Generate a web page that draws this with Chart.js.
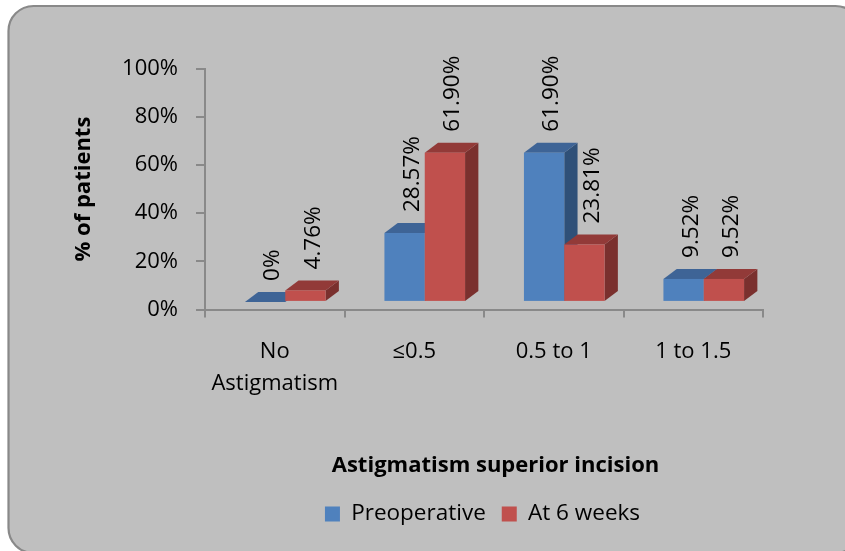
<!DOCTYPE html>
<html>
<head>
<meta charset="utf-8">
<script src="https://cdn.jsdelivr.net/npm/chart.js@4/dist/chart.umd.min.js"></script>
<style>
  html, body { margin: 0; padding: 0; background: #fff; }
  canvas { display: block; }
</style>
</head>
<body>
<canvas id="chart" width="845" height="551"></canvas>
<script>
const categories = [['No', 'Astigmatism'], '≤0.5', '0.5 to 1', '1 to 1.5'];
const preoperative = [0, 28.57, 61.9, 9.52];
const atSixWeeks = [4.76, 61.9, 23.81, 9.52];
const preoperativeLabels = ['0%', '28.57%', '61.90%', '9.52%'];
const atSixWeeksLabels = ['4.76%', '61.90%', '23.81%', '9.52%'];
const yTicks = [0, 20, 40, 60, 80, 100];

const fontName = 'Open Sans';
const axisGrey = '#898989';
const faces = [
  { front: '#4F81BD', top: '#3E6496', side: '#2F5078', labels: preoperativeLabels },
  { front: '#C0504D', top: '#923A38', side: '#7A302E', labels: atSixWeeksLabels }
];

// box behind everything, runs off the right and bottom of the page
const framePlugin = {
  id: 'frame',
  beforeDraw(chart) {
    const ctx = chart.ctx;
    ctx.save();
    ctx.beginPath();
    ctx.roundRect(8.5, 6, 852, 547, 25);
    ctx.fillStyle = '#BFBFBF';
    ctx.fill();
    ctx.lineWidth = 2.2;
    ctx.strokeStyle = axisGrey;
    ctx.stroke();
    ctx.restore();
  }
};

// legend and title sit off centre in the original
const placementPlugin = {
  id: 'placement',
  afterLayout(chart) {
    chart.legend.left += 101;
    chart.legend.right += 101;
    chart.legend.top = 486.7;
    chart.titleBlock.left += 114;
    chart.titleBlock.right += 114;
    chart.titleBlock.top = 452.8;
  }
};

function polygon(ctx, points, colour) {
  ctx.beginPath();
  ctx.moveTo(points[0][0], points[0][1]);
  points.slice(1).forEach(p => ctx.lineTo(p[0], p[1]));
  ctx.closePath();
  ctx.fillStyle = colour;
  ctx.fill();
}

// fake 3d columns, heights come from the bar elements
const columnsPlugin = {
  id: 'columns',
  beforeDatasetsDraw(chart) {
    const ctx = chart.ctx;
    const depthX = 13.3, depthY = 10;
    ctx.save();
    ctx.translate(10.5, -7.7);
    faces.forEach((face, d) => {
      chart.getDatasetMeta(d).data.forEach(bar => {
        const l = bar.x - bar.width / 2, r = bar.x + bar.width / 2;
        const y = bar.y, b = bar.base;
        polygon(ctx, [[r, y], [r + depthX, y - depthY], [r + depthX, b - depthY], [r, b]], face.side);
        polygon(ctx, [[l, y], [r, y], [r + depthX, y - depthY], [l + depthX, y - depthY]], face.top);
        ctx.fillStyle = face.front;
        ctx.fillRect(l, y, r - l, b - y);
      });
    });
    faces.forEach((face, d) => {
      chart.getDatasetMeta(d).data.forEach((bar, i) => {
        ctx.save();
        ctx.translate(bar.x + 8, bar.y - 21);
        ctx.rotate(-Math.PI / 2);
        ctx.font = '22.5px "' + fontName + '"';
        ctx.fillStyle = '#000';
        ctx.textAlign = 'left';
        ctx.textBaseline = 'middle';
        ctx.fillText(face.labels[i], 0, 0);
        ctx.restore();
      });
    });
    ctx.restore();
    return false;
  }
};

new Chart(document.getElementById('chart'), {
  type: 'bar',
  data: {
    labels: categories,
    datasets: [
      { label: 'Preoperative', data: preoperative, backgroundColor: faces[0].front, borderWidth: 0 },
      { label: 'At 6 weeks', data: atSixWeeks, backgroundColor: faces[1].front, borderWidth: 0 }
    ]
  },
  options: {
    responsive: false,
    animation: false,
    layout: { padding: { left: 0, top: 68.5, right: 82, bottom: 14 } },
    datasets: { bar: { barPercentage: 1, categoryPercentage: 0.578 } },
    scales: {
      x: {
        afterFit(scale) { scale.height = 132.5; },
        grid: { drawOnChartArea: false, color: axisGrey, lineWidth: 2, tickLength: 8 },
        border: { color: axisGrey, width: 2 },
        ticks: { color: '#000', font: { family: fontName, size: 22, lineHeight: 1.45 }, padding: 18, maxRotation: 0, autoSkip: false }
      },
      y: {
        min: 0,
        max: 100,
        afterBuildTicks(scale) { scale.ticks = yTicks.map(v => ({ value: v })); },
        afterFit(scale) { scale.width = 205; },
        grid: { drawOnChartArea: false, color: axisGrey, lineWidth: 2, tickLength: 9 },
        border: { color: axisGrey, width: 2 },
        ticks: { color: '#000', font: { family: fontName, size: 22 }, padding: 18, callback: v => v + '%' },
        title: {
          display: true,
          text: '% of patients',
          color: '#000',
          font: { family: fontName, size: 22, weight: 'bold' },
          padding: { top: 71, bottom: 0 }
        }
      }
    },
    plugins: {
      tooltip: { enabled: false },
      title: {
        display: true,
        position: 'bottom',
        weight: 500,
        text: 'Astigmatism superior incision',
        color: '#000',
        font: { family: fontName, size: 22, weight: 'bold' },
        padding: { top: 0, bottom: 20 }
      },
      legend: {
        position: 'bottom',
        labels: {
          color: '#000',
          font: { family: fontName, size: 22.5 },
          boxWidth: 15,
          boxHeight: 15,
          padding: 16
        }
      }
    }
  },
  plugins: [framePlugin, placementPlugin, columnsPlugin]
});
</script>
</body>
</html>
